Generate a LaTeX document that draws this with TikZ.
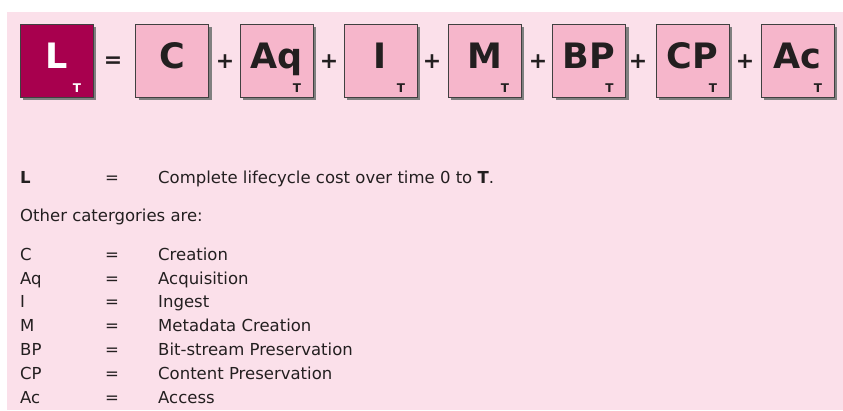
\documentclass[tikz,border=0pt]{standalone}
\usepackage{fontspec}
\setmainfont{DejaVu Sans}
\usetikzlibrary{shadows}
\definecolor{bgpink}{HTML}{FBE0EA}
\definecolor{boxpink}{HTML}{F6B6CB}
\definecolor{lcol}{HTML}{A8004E}
\definecolor{txt}{HTML}{231F20}
\tikzset{
  costbox/.style={draw=black!75, line width=0.8pt, fill=boxpink, minimum width=73pt, minimum height=73pt, inner sep=0pt,
    drop shadow={shadow xshift=3pt, shadow yshift=-3pt, fill=black!50, opacity=1}},
  bigletter/.style={font=\fontsize{35}{35}\selectfont\bfseries, text=txt, anchor=base, inner sep=0pt},
  subT/.style={font=\fontsize{12}{12}\selectfont\bfseries, text=txt, anchor=base, inner sep=0pt},
  op/.style={font=\fontsize{22}{22}\selectfont\bfseries, text=txt, inner sep=0pt},
  lbl/.style={font=\fontsize{16.5}{19}\selectfont, anchor=base west, inner sep=0pt, text=txt},
  eqs/.style={font=\fontsize{16.5}{19}\selectfont, anchor=base, inner sep=0pt, text=txt},
}
\begin{document}
\begin{tikzpicture}[x=1pt,y=-1pt]
\useasboundingbox (0,0) rectangle (843,410);
\fill[bgpink] (7,12) rectangle (843,410);
% L box
\node[costbox, fill=lcol] (bL) at (56.5,60.5) {};
\node[bigletter, text=white] (tL) at ([yshift=-7.5pt]bL.center) {L};
\node[subT, text=white] (sL) at ([xshift=20.5pt,yshift=-31.5pt]bL.center) {T};
\node[op] (eq) at (113,62) {=};
% other boxes
\foreach \n/\x/\t/\s in {C/172/C/0, Aq/276.5/Aq/1, I/380.5/I/1, M/484.5/M/1, BP/589/BP/1, CP/692.5/CP/1, Ac/797.5/Ac/1}{
  \node[costbox] (b\n) at (\x,60.5) {};
  \node[bigletter] (t\n) at ([yshift=-7.5pt]b\n.center) {\t};
  \ifnum\s=1
    \node[subT] (s\n) at ([xshift=20.5pt,yshift=-31.5pt]b\n.center) {T};
  \fi
}
\foreach \x [count=\i] in {225,329,432,538,638,745}{
  \node[op] (plus\i) at (\x,62) {+};
}
% legend
\node[lbl, font=\fontsize{16.5}{19}\selectfont\bfseries] (kL) at (20,183) {L};
\node[eqs] (eL) at (112,183) {=};
\node[lbl] (dL) at (158,183) {Complete lifecycle cost over time 0 to \textbf{T}.};
\node[lbl] (other) at (20,221) {Other catergories are:};
\foreach \k/\d/\y [count=\i] in {C/Creation/260, Aq/Acquisition/284, I/Ingest/307, M/Metadata Creation/331, BP/Bit-stream Preservation/355, CP/Content Preservation/379, Ac/Access/403}{
  \node[lbl] (k\i) at (20,\y) {\k};
  \node[eqs] (e\i) at (112,\y) {=};
  \node[lbl] (d\i) at (158,\y) {\d};
}
\end{tikzpicture}
\end{document}
